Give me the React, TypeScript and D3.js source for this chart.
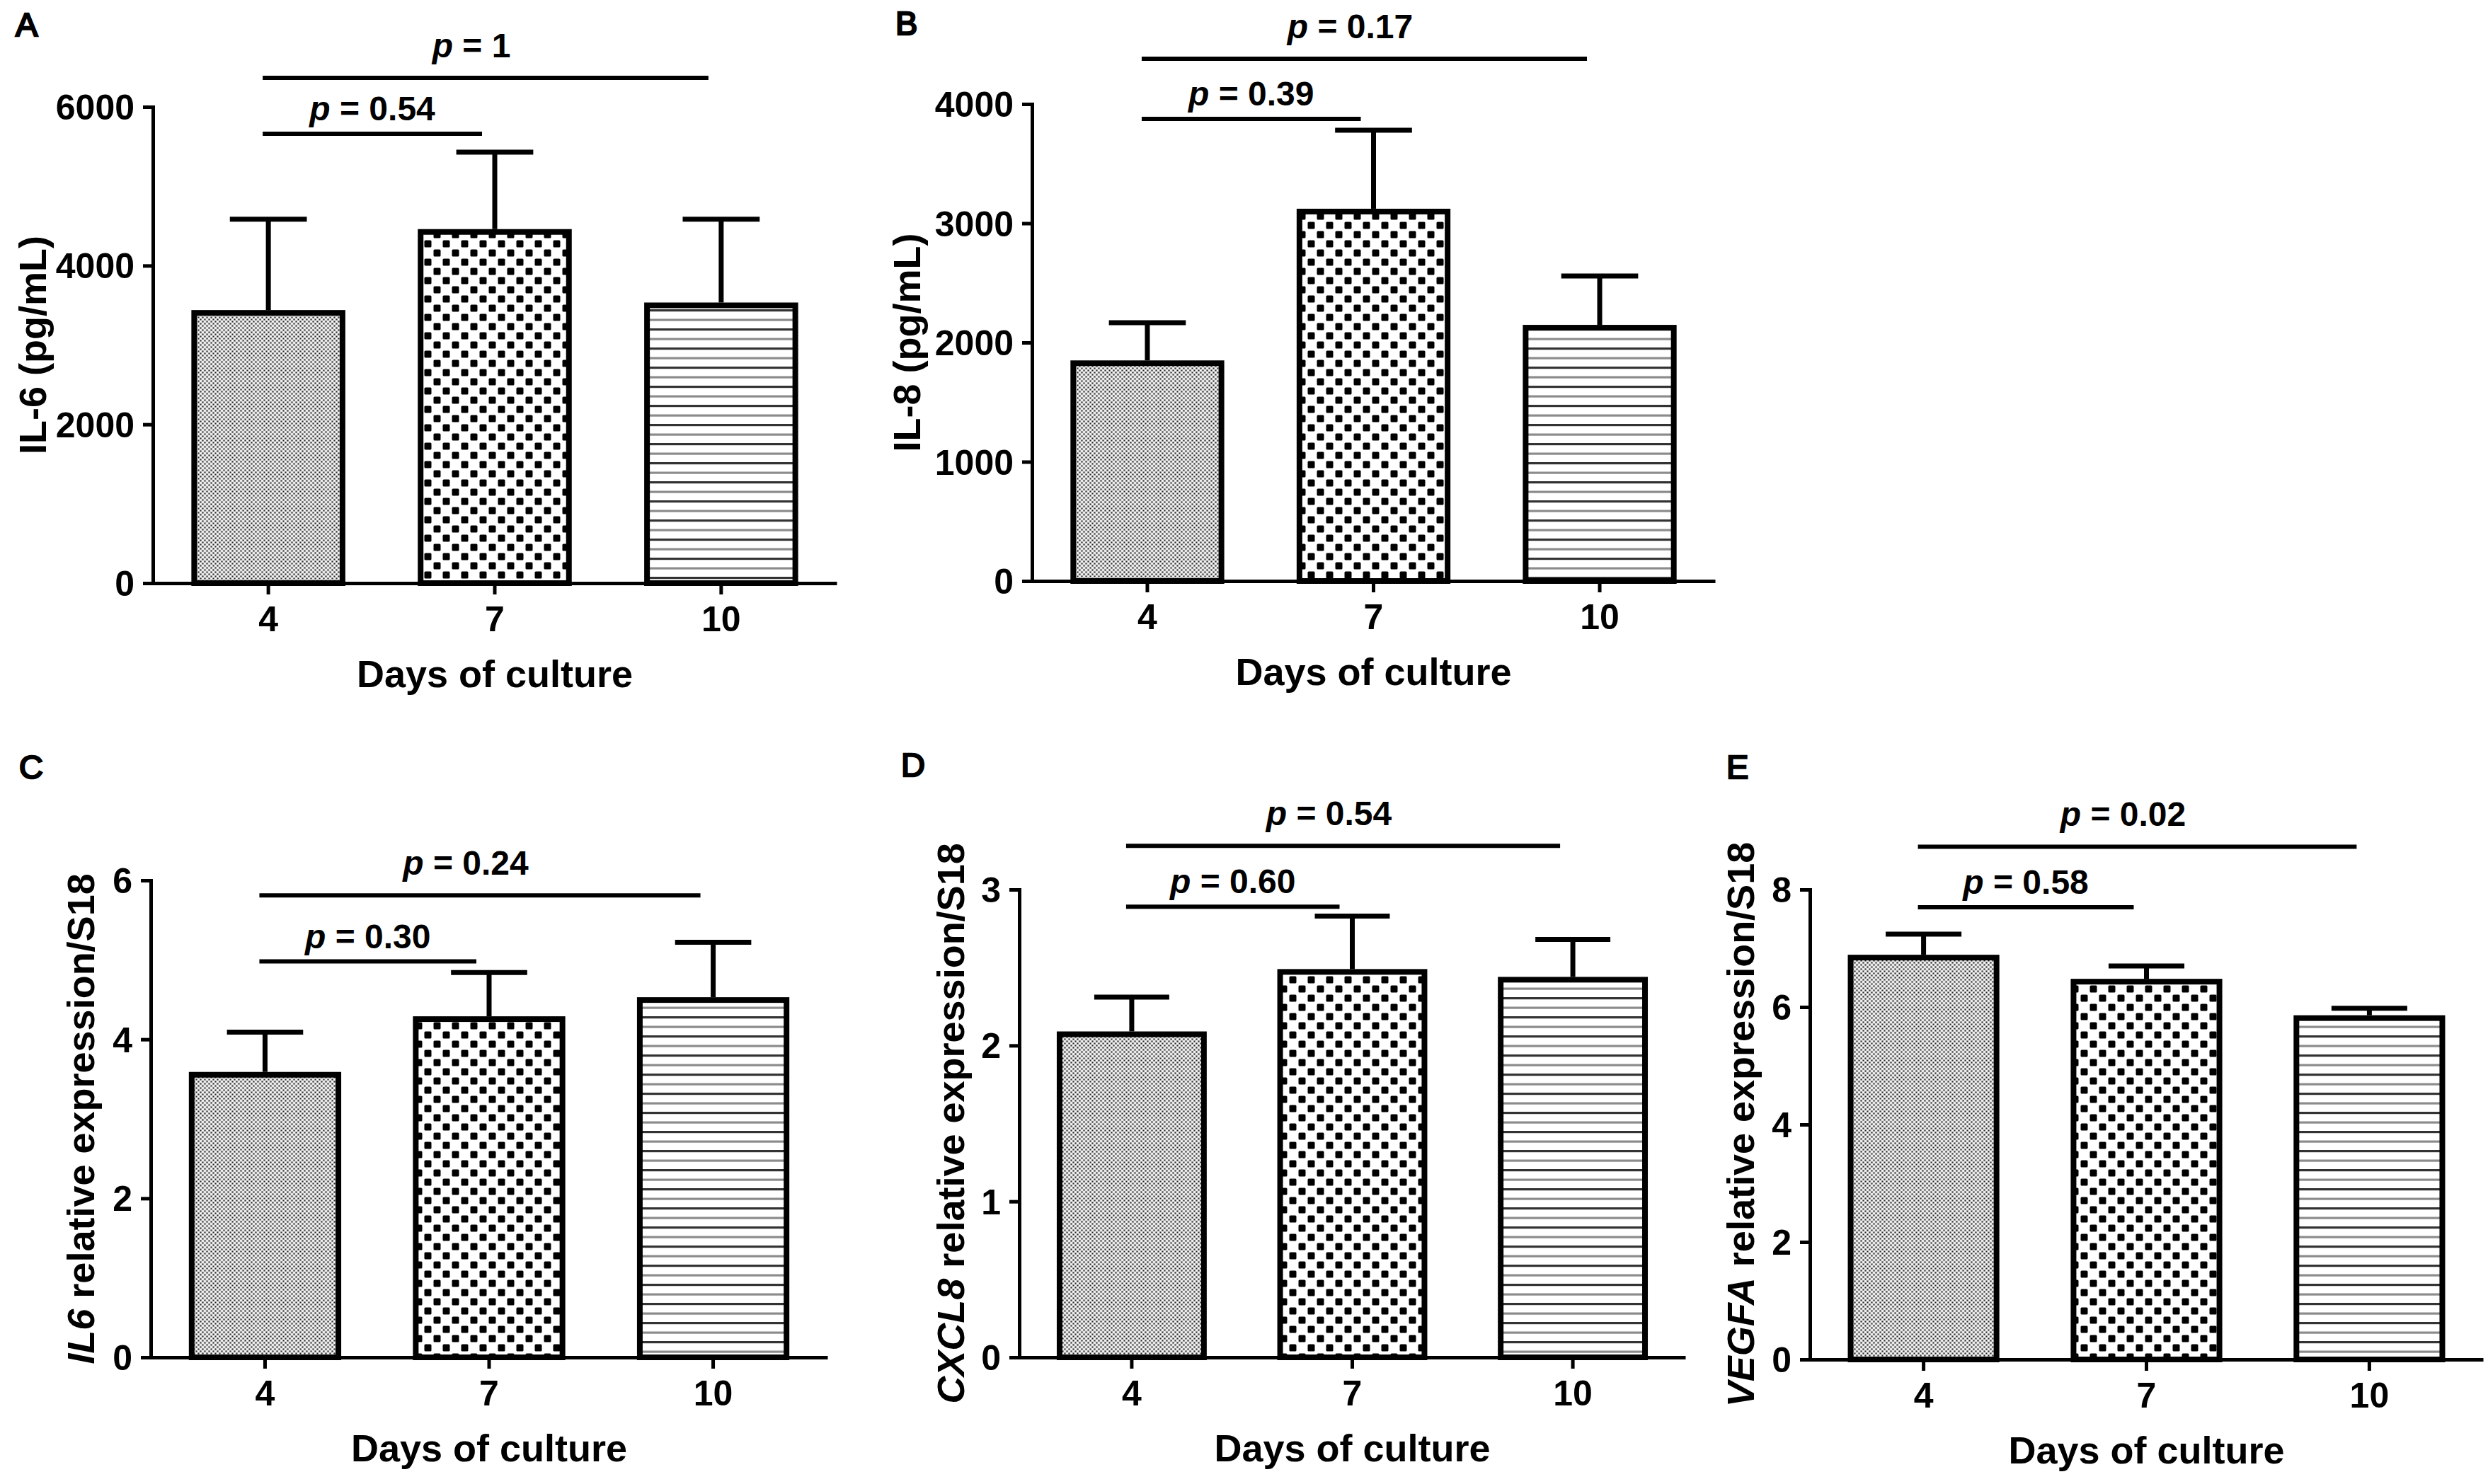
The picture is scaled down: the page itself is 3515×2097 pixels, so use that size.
import * as d3 from "d3";
import { useEffect, useRef } from "react";

// categories (days of culture)
const days = ["4", "7", "10"];

// A: IL-6 protein (pg/mL)
const il6Mean = [3440, 4460, 3535];
const il6Sem = [1145, 970, 1050];
const il6Ticks = [0, 2000, 4000, 6000];

// B: IL-8 protein (pg/mL)
const il8Mean = [1850, 3122, 2148];
const il8Sem = [316, 658, 410];
const il8Ticks = [0, 1000, 2000, 3000, 4000];

// C: IL6 relative expression
const il6ExprMean = [3.59, 4.29, 4.53];
const il6ExprSem = [0.5, 0.55, 0.69];
const il6ExprTicks = [0, 2, 4, 6];

// D: CXCL8 relative expression
const cxcl8Mean = [2.09, 2.49, 2.44];
const cxcl8Sem = [0.22, 0.34, 0.24];
const cxcl8Ticks = [0, 1, 2, 3];

// E: VEGFA relative expression
const vegfaMean = [6.89, 6.48, 5.86];
const vegfaSem = [0.35, 0.22, 0.12];
const vegfaTicks = [0, 2, 4, 6, 8];

// comparison brackets: from day 4 to `to`, drawn at height `at` (data units)
const il6Brackets = [
	{ to: "10", at: 6365, p: "1", long: true },
	{ to: "7", at: 5661, p: "0.54", long: false },
];
const il8Brackets = [
	{ to: "10", at: 4380, p: "0.17", long: true },
	{ to: "7", at: 3875, p: "0.39", long: false },
];
const il6ExprBrackets = [
	{ to: "10", at: 5.81, p: "0.24", long: true },
	{ to: "7", at: 4.98, p: "0.30", long: false },
];
const cxcl8Brackets = [
	{ to: "10", at: 3.28, p: "0.54", long: true },
	{ to: "7", at: 2.89, p: "0.60", long: false },
];
const vegfaBrackets = [
	{ to: "10", at: 8.73, p: "0.02", long: true },
	{ to: "7", at: 7.7, p: "0.58", long: false },
];

const FONT = "'Liberation Sans', Arial, Helvetica, sans-serif";
const W = 3515;
const H = 2097;

// panel layout (pixels) kept apart from the data
const panels = [
	{
		letter: "A", letterX: 22, letterY: 51,
		x0: 216, x1: 1182, y0: 824, y1: 151, titleX: 65,
		mean: il6Mean, sem: il6Sem, ticks: il6Ticks, brackets: il6Brackets,
		title: [{ t: "IL-6 (pg/mL)", i: false }],
	},
	{
		letter: "B", letterX: 1265, letterY: 49,
		x0: 1458, x1: 2423, y0: 821, y1: 147, titleX: 1300,
		mean: il8Mean, sem: il8Sem, ticks: il8Ticks, brackets: il8Brackets,
		title: [{ t: "IL-8 (pg/mL)", i: false }],
	},
	{
		letter: "C", letterX: 27, letterY: 1100,
		x0: 213, x1: 1169, y0: 1918, y1: 1244, titleX: 133,
		mean: il6ExprMean, sem: il6ExprSem, ticks: il6ExprTicks, brackets: il6ExprBrackets,
		title: [{ t: "IL6", i: true }, { t: " relative expression/S18", i: false }],
	},
	{
		letter: "D", letterX: 1273, letterY: 1097,
		x0: 1440, x1: 2381, y0: 1918, y1: 1257, titleX: 1362,
		mean: cxcl8Mean, sem: cxcl8Sem, ticks: cxcl8Ticks, brackets: cxcl8Brackets,
		title: [{ t: "CXCL8", i: true }, { t: " relative expression/S18", i: false }],
	},
	{
		letter: "E", letterX: 2439, letterY: 1100,
		x0: 2557, x1: 3508, y0: 1921, y1: 1257, titleX: 2478,
		mean: vegfaMean, sem: vegfaSem, ticks: vegfaTicks, brackets: vegfaBrackets,
		title: [{ t: "VEGFA", i: true }, { t: " relative expression/S18", i: false }],
	},
];

const fills = ["url(#pat-fine)", "url(#pat-check)", "url(#pat-lines)"];

export default function App() {
	const svgRef = useRef<SVGSVGElement>(null);

	useEffect(() => {
		if (!svgRef.current) return;
		const svg = d3.select(svgRef.current);
		svg.selectAll("*").remove();

		svg.append("rect").attr("width", W).attr("height", H).attr("fill", "#fff");

		// fill patterns
		const defs = svg.append("defs");

		const fine = defs.append("pattern")
			.attr("id", "pat-fine")
			.attr("patternUnits", "userSpaceOnUse")
			.attr("width", 6)
			.attr("height", 6);
		fine.append("rect").attr("width", 6).attr("height", 6).attr("fill", "#c4c4c4");
		fine.append("rect").attr("x", 0.6).attr("y", 0.6).attr("width", 1.8).attr("height", 1.8).attr("fill", "#222");
		fine.append("rect").attr("x", 3.6).attr("y", 3.6).attr("width", 1.8).attr("height", 1.8).attr("fill", "#222");
		fine.append("rect").attr("x", 3.3).attr("y", 0.3).attr("width", 2.4).attr("height", 2.4).attr("fill", "#fff");
		fine.append("rect").attr("x", 0.3).attr("y", 3.3).attr("width", 2.4).attr("height", 2.4).attr("fill", "#fff");

		const check = defs.append("pattern")
			.attr("id", "pat-check")
			.attr("patternUnits", "userSpaceOnUse")
			.attr("width", 26)
			.attr("height", 26);
		check.append("rect").attr("width", 26).attr("height", 26).attr("fill", "#fff");
		check.append("rect").attr("x", 1.5).attr("y", 1.5).attr("width", 10).attr("height", 10).attr("rx", 1.5).attr("fill", "#000");
		check.append("rect").attr("x", 14.5).attr("y", 14.5).attr("width", 10).attr("height", 10).attr("rx", 1.5).attr("fill", "#000");

		const lines = defs.append("pattern")
			.attr("id", "pat-lines")
			.attr("patternUnits", "userSpaceOnUse")
			.attr("width", 20)
			.attr("height", 27);
		lines.append("rect").attr("width", 20).attr("height", 27).attr("fill", "#fff");
		lines.append("rect").attr("y", 5).attr("width", 20).attr("height", 3.2).attr("fill", "#333");
		lines.append("rect").attr("y", 18.5).attr("width", 20).attr("height", 3.2).attr("fill", "#8c8c8c");

		panels.forEach((p) => {
			const g = svg.append("g");

			const x = d3.scaleBand<string>()
				.domain(days)
				.range([p.x0, p.x1])
				.paddingInner(0.32)
				.paddingOuter(0.17);

			const y = d3.scaleLinear()
				.domain([0, d3.max(p.ticks) as number])
				.range([p.y0, p.y1]);

			const bw = x.bandwidth();
			const cx = (d: string) => (x(d) as number) + bw / 2;

			const rows = days.map((d, i) => ({ day: d, mean: p.mean[i], sem: p.sem[i], fill: fills[i] }));

			// error bars (upper only)
			const err = g.append("g").attr("stroke", "#000").attr("stroke-width", 7);
			err.selectAll("line.v")
				.data(rows)
				.enter()
				.append("line")
				.attr("x1", (d) => cx(d.day))
				.attr("x2", (d) => cx(d.day))
				.attr("y1", (d) => y(d.mean))
				.attr("y2", (d) => y(d.mean + d.sem));
			err.selectAll("line.cap")
				.data(rows)
				.enter()
				.append("line")
				.attr("x1", (d) => cx(d.day) - bw * 0.25)
				.attr("x2", (d) => cx(d.day) + bw * 0.25)
				.attr("y1", (d) => y(d.mean + d.sem))
				.attr("y2", (d) => y(d.mean + d.sem));

			// bars
			g.append("g")
				.selectAll("rect")
				.data(rows)
				.enter()
				.append("rect")
				.attr("x", (d) => (x(d.day) as number) + 4)
				.attr("width", bw - 8)
				.attr("y", (d) => y(d.mean) + 4)
				.attr("height", (d) => y(0) - y(d.mean) - 4)
				.attr("fill", (d) => d.fill)
				.attr("stroke", "#000")
				.attr("stroke-width", 8);

			// y axis
			const yAxis = g.append("g")
				.attr("transform", `translate(${p.x0},0)`)
				.call(d3.axisLeft(y).tickValues(p.ticks).tickSize(14).tickPadding(12).tickSizeOuter(0).tickFormat(d3.format("d")));
			yAxis.attr("font-family", FONT).attr("font-size", 50).attr("font-weight", "bold");
			yAxis.select(".domain").attr("stroke-width", 5).attr("stroke-linecap", "square");
			yAxis.selectAll(".tick line").attr("stroke-width", 5);
			yAxis.selectAll(".tick text").attr("fill", "#000").attr("dy", "0.35em");

			// x axis
			const xAxis = g.append("g")
				.attr("transform", `translate(0,${p.y0})`)
				.call(d3.axisBottom(x).tickSize(16).tickPadding(16).tickSizeOuter(0));
			xAxis.attr("font-family", FONT).attr("font-size", 50).attr("font-weight", "bold");
			xAxis.select(".domain").attr("stroke-width", 5);
			xAxis.selectAll(".tick line").attr("stroke-width", 5);
			xAxis.selectAll(".tick text").attr("fill", "#000");

			// x title
			g.append("text")
				.attr("x", (p.x0 + p.x1) / 2)
				.attr("y", p.y0 + 147)
				.attr("text-anchor", "middle")
				.attr("font-family", FONT)
				.attr("font-size", 54)
				.attr("font-weight", "bold")
				.text("Days of culture");

			// y title
			const yt = g.append("text")
				.attr("transform", `translate(${p.titleX},${(p.y0 + p.y1) / 2}) rotate(-90)`)
				.attr("text-anchor", "middle")
				.attr("font-family", FONT)
				.attr("font-size", 54)
				.attr("font-weight", "bold");
			p.title.forEach((part) => {
				yt.append("tspan")
					.attr("font-style", part.i ? "italic" : "normal")
					.text(part.t);
			});

			// significance brackets
			p.brackets.forEach((b) => {
				const bx1 = cx("4") - 8;
				const bx2 = cx(b.to) - 18;
				const by = y(b.at);
				g.append("line")
					.attr("x1", bx1)
					.attr("x2", bx2)
					.attr("y1", by)
					.attr("y2", by)
					.attr("stroke", "#000")
					.attr("stroke-width", 6);
				const t = g.append("text")
					.attr("x", (bx1 + bx2) / 2 - (b.long ? 20 : 0))
					.attr("y", by - (b.long ? 29 : 19))
					.attr("text-anchor", "middle")
					.attr("font-family", FONT)
					.attr("font-size", 48)
					.attr("font-weight", "bold");
				t.append("tspan").attr("font-style", "italic").text("p");
				t.append("tspan").text(` = ${b.p}`);
			});

			// panel letter
			g.append("text")
				.attr("x", p.letterX)
				.attr("y", p.letterY)
				.attr("font-family", FONT)
				.attr("font-size", 47)
				.attr("stroke", "#000")
				.attr("stroke-width", 2.5)
				.text(p.letter);
		});
	}, []);

	return (
		<svg
			ref={svgRef}
			width={W}
			height={H}
			style={{ position: "absolute", left: 0, top: 0, display: "block" }}
		/>
	);
}
